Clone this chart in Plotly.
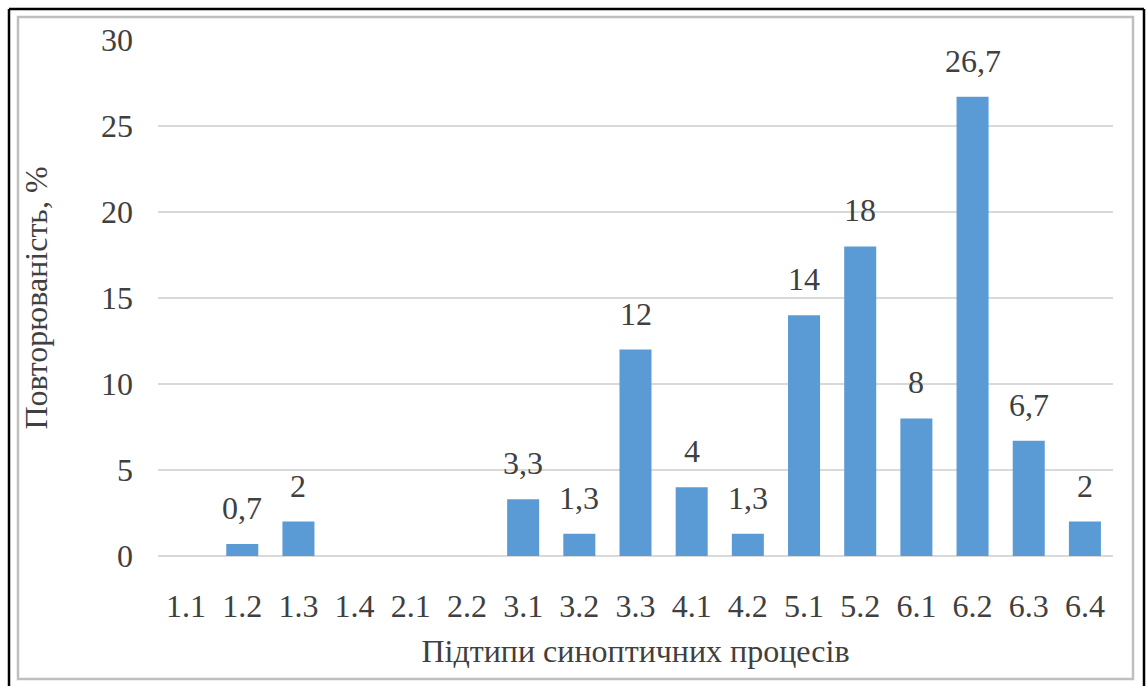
import plotly.graph_objects as go

# Synoptic process subtypes and their recurrence, %
subtypes = ["1.1", "1.2", "1.3", "1.4", "2.1", "2.2", "3.1", "3.2", "3.3",
            "4.1", "4.2", "5.1", "5.2", "6.1", "6.2", "6.3", "6.4"]
recurrence = [0, 0.7, 2, 0, 0, 0, 3.3, 1.3, 12, 4, 1.3, 14, 18, 8, 26.7, 6.7, 2]

y_ticks = [0, 5, 10, 15, 20, 25, 30]

W, H = 1147, 686
L, R, T, B = 158, 34, 40, 130
FONT = "Liberation Serif"
TXT = "#404040"
FS = 32


def fmt(v):
    return str(int(v)) if float(v).is_integer() else str(v).replace(".", ",")


fig = go.Figure()
fig.add_trace(go.Bar(
    x=subtypes, y=recurrence,
    marker=dict(color="#5B9BD5", line=dict(width=0)),
    hoverinfo="x+y",
))

# value labels above the non-zero bars (category index as x position)
for i, v in enumerate(recurrence):
    if v > 0:
        fig.add_annotation(x=i, y=v, text=fmt(v), showarrow=False,
                           xref="x", yref="y",
                           yanchor="bottom", yshift=16,
                           font=dict(family=FONT, size=FS, color=TXT))

pw, ph = W - L - R, H - T - B


def px_x(p):
    return (p - L) / pw


def px_y(p):
    return (H - B - p) / ph


# frame: outer black border and inner grey border
frame = [
    dict(x0=px_x(9), x1=px_x(9), y0=px_y(9), y1=px_y(700)),
    dict(x0=px_x(9), x1=px_x(1144), y0=px_y(9), y1=px_y(9)),
    dict(x0=px_x(1144), x1=px_x(1144), y0=px_y(9), y1=px_y(700)),
]
for f in frame:
    fig.add_shape(type="line", xref="paper", yref="paper",
                  x0=f["x0"], x1=f["x1"], y0=f["y0"], y1=f["y1"],
                  line=dict(color="black", width=2.5))
fig.add_shape(type="rect", xref="paper", yref="paper",
              x0=px_x(18), x1=px_x(1133), y0=px_y(679), y1=px_y(17),
              line=dict(color="#BFBFBF", width=2.5))

fig.update_layout(
    width=W, height=H,
    margin=dict(l=L, r=R, t=T, b=B),
    paper_bgcolor="white", plot_bgcolor="white",
    bargap=0.43,
    showlegend=False,
    font=dict(family=FONT, size=FS, color=TXT),
    xaxis=dict(
        type="category", showgrid=False, showline=False, zeroline=False,
        ticks="", tickfont=dict(family=FONT, size=FS, color=TXT),
        ticklabelstandoff=28,
        title=dict(text="Підтипи синоптичних процесів", standoff=16,
                   font=dict(family=FONT, size=FS, color=TXT)),
    ),
    yaxis=dict(
        range=[0, 30], tickvals=y_ticks, ticktext=[str(t) for t in y_ticks],
        showgrid=True, gridcolor="#D9D9D9", gridwidth=1.5,
        zeroline=True, zerolinecolor="#D9D9D9", zerolinewidth=1.5,
        showline=False, ticks="",
        tickfont=dict(family=FONT, size=FS, color=TXT),
        ticklabelstandoff=24,
        title=dict(text="Повторюваність, %", standoff=43,
                   font=dict(family=FONT, size=FS, color=TXT)),
    ),
)

fig.write_html("out.html")
